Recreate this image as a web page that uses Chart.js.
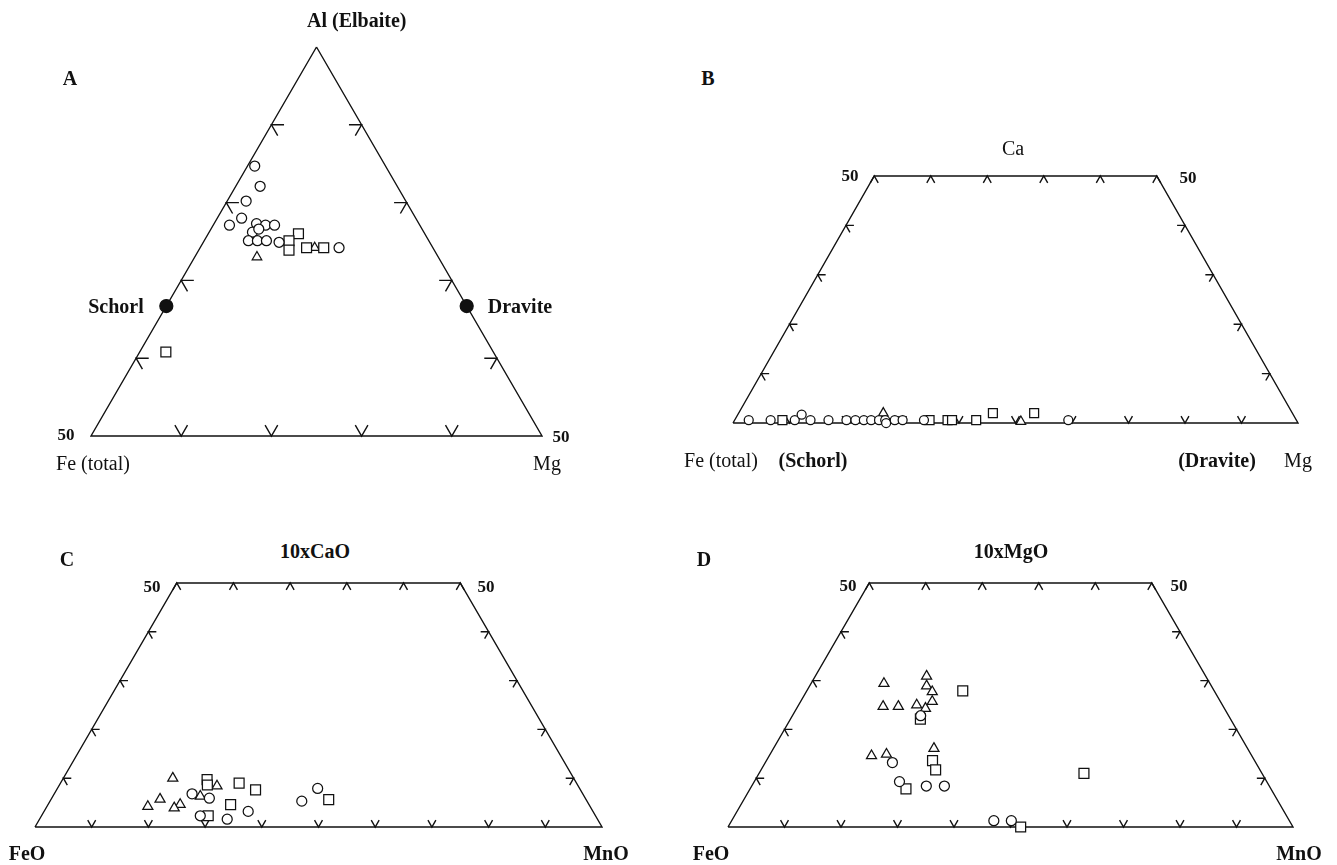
<!DOCTYPE html>
<html>
<head>
<meta charset="utf-8">
<script src="https://cdn.jsdelivr.net/npm/chart.js@4.4.1/dist/chart.umd.min.js"></script>
<style>
  body { margin: 0; background: #fff; }
  #page { position: relative; width: 1337px; height: 865px; overflow: hidden;
          font-family: "Liberation Serif", "Times New Roman", serif; color: #111; }
  canvas { position: absolute; }
  .lbl { position: absolute; white-space: nowrap; font-size: 20px; line-height: 1; }
  .b { font-weight: bold; }
  .n50 { font-size: 17px; font-weight: bold; }
</style>
</head>
<body>
<div id="page">
  <canvas id="cA"></canvas>
  <canvas id="cB"></canvas>
  <canvas id="cC"></canvas>
  <canvas id="cD"></canvas>
</div>
<script>
// Compositions in percent, [top, left, right] of each diagram

// A: Al (top) - Fe total (left) - Mg (right)
const aCircles = [[84.7, 14.5, 0.8], [82.1, 15.2, 2.7], [80.2, 17.7, 2.1], [78.0, 19.3, 2.7],
  [77.1, 21.1, 1.8], [77.3, 18.0, 4.7], [77.1, 17.1, 5.8], [77.1, 16.1, 6.8], [76.2, 19.0, 4.8],
  [76.6, 18.1, 5.3], [75.1, 20.0, 4.9], [75.1, 19.0, 5.9], [75.1, 18.0, 6.9], [74.9, 16.7, 8.4],
  [74.2, 10.4, 15.4]];
const aSquares = [[76.0, 14.0, 10.0], [75.1, 15.5, 9.4], [73.9, 16.1, 10.0], [74.2, 14.0, 11.8],
  [74.2, 12.1, 13.7], [60.8, 36.3, 2.9]];
const aTriangles = [[73.0, 20.1, 6.9], [74.2, 13.1, 12.7]];
const aEndMembers = [[66.7, 33.3, 0], [66.7, 0, 33.3]]; // Schorl, Dravite

// B: Ca (top) - Fe total (left) - Mg (right)
const bCircles = [[0.6, 97.5, 2.5], [0.6, 93.6, 6.4], [0.6, 89.3, 10.7], [1.7, 87.0, 11.3],
  [0.6, 86.5, 13.5], [0.6, 83.3, 16.7], [0.6, 80.1, 19.9], [0.6, 78.5, 21.5], [0.6, 77.0, 23.0],
  [0.6, 75.7, 24.3], [0.6, 74.3, 25.7], [0.6, 73.2, 26.8], [0, 72.9, 27.1], [0.6, 71.5, 28.5],
  [0.6, 70.1, 29.9], [0.6, 66.3, 33.7], [0.6, 40.6, 59.4]];
const bSquares = [[0.6, 91.5, 8.5], [0.6, 65.3, 34.7], [0.6, 62.1, 37.9], [0.6, 61.3, 38.7],
  [0.6, 57.0, 43.0], [2.0, 53.0, 45.0], [2.0, 45.7, 52.3]];
const bTriangles = [[2.0, 72.4, 25.6], [0.3, 48.9, 50.8]];

// C: 10xCaO (top) - FeO (left) - MnO (right)
const cTriangles = [[10.0, 70.7, 19.3], [5.7, 75.1, 19.2], [4.2, 78.0, 17.8], [4.6, 72.1, 23.3],
  [3.9, 73.5, 22.6], [8.4, 63.7, 27.9], [6.3, 67.7, 26.0]];
const cSquares = [[9.7, 64.8, 25.5], [8.6, 65.3, 26.1], [9.0, 59.5, 31.5], [7.6, 57.3, 35.1],
  [4.6, 63.2, 32.2], [2.3, 68.3, 29.4], [5.6, 45.4, 49.0]];
const cCircles = [[6.8, 68.9, 24.3], [5.9, 66.3, 27.8], [2.3, 69.7, 28.0], [1.6, 65.3, 33.1],
  [3.2, 60.8, 36.0], [5.3, 50.3, 44.4], [7.9, 46.2, 45.9]];

// D: 10xMgO (top) - FeO (left) - MnO (right)
const dTriangles = [[29.4, 57.7, 12.9], [30.9, 49.4, 19.7], [28.9, 50.4, 20.7], [27.7, 50.0, 22.3],
  [25.7, 51.0, 23.3], [24.7, 60.2, 15.1], [24.7, 57.5, 17.8], [25.0, 54.1, 20.9], [24.3, 52.9, 22.8],
  [14.6, 67.3, 18.1], [14.9, 64.5, 20.6], [16.1, 55.5, 28.4]];
const dSquares = [[22.1, 54.9, 23.0], [13.6, 57.0, 29.4], [11.7, 57.4, 30.9], [7.8, 64.6, 27.6],
  [0, 48.2, 51.8], [11.0, 31.5, 57.5], [27.9, 44.5, 27.6]];
const dCircles = [[22.8, 54.5, 22.7], [13.2, 64.3, 22.5], [9.3, 65.0, 25.7], [8.4, 60.7, 30.9],
  [8.4, 57.5, 34.1], [1.3, 52.3, 46.4], [1.3, 49.2, 49.5]];

// tick positions (percent)
const aSideTicks = [60, 70, 80, 90];     // Al on both sides
const aBaseTicks = [10, 20, 30, 40];     // Fe along Al = 50
const trapSideTicks = [10, 20, 30, 40];  // top component on both sides
const trapTopTicks = [0, 10, 20, 30, 40, 50];
const trapBaseTicks = [10, 20, 30, 40, 50, 60, 70, 80, 90];

const PAD = 20;
const INK = "#111";
const TICK = 1.4;

// ternary -> cartesian, x = right + top/2, y = top
function toXY(c) {
  const s = c[0] + c[1] + c[2];
  return { x: (c[2] + c[0] / 2) / s * 100, y: c[0] / s * 100 };
}

function lineSet(comps) {
  return {
    data: comps.map(toXY), showLine: true, borderColor: INK, borderWidth: 1.4,
    pointRadius: 0, fill: false, clip: false, order: 5, borderJoinStyle: "miter"
  };
}

function markSet(comps, style, r, fill) {
  return {
    data: comps.map(toXY), showLine: false, pointStyle: style, pointRadius: r,
    pointBackgroundColor: fill || "#fff", pointBorderColor: INK, pointBorderWidth: 1.25,
    clip: false, order: 1
  };
}

// tick shapes: two short arms along the grid directions
function leftTick(t) {
  const l = 100 - t;
  return [[t, l - TICK, TICK], [t, l, 0], [t - TICK, l, TICK]];
}
function rightTick(t) {
  const r = 100 - t;
  return [[t, TICK, r - TICK], [t, 0, r], [t - TICK, TICK, r]];
}
function baseTick(t, l) {
  const r = 100 - t - l;
  return [[t + TICK, l - TICK, r], [t, l, r], [t + TICK, l, r - TICK]];
}
function topTick(t, r) {
  const l = 100 - t - r;
  return [[t - TICK, l + TICK, r], [t, l, r], [t - TICK, l, r + TICK]];
}

function triangleFrame() {
  const sets = [lineSet([[100, 0, 0], [50, 50, 0], [50, 0, 50], [100, 0, 0]])];
  aSideTicks.forEach(t => {
    sets.push(lineSet(leftTick(t)));
    sets.push(lineSet(rightTick(t)));
  });
  aBaseTicks.forEach(f => sets.push(lineSet(baseTick(50, f))));
  return sets;
}

function trapFrame() {
  const sets = [lineSet([[0, 100, 0], [50, 50, 0], [50, 0, 50], [0, 0, 100], [0, 100, 0]])];
  trapSideTicks.forEach(t => {
    sets.push(lineSet(leftTick(t)));
    sets.push(lineSet(rightTick(t)));
  });
  trapTopTicks.forEach(r => sets.push(lineSet(topTick(50, r))));
  trapBaseTicks.forEach(r => sets.push(lineSet(baseTick(0, 100 - r))));
  return sets;
}

function makeChart(id, box, range, datasets) {
  const cv = document.getElementById(id);
  cv.width = box.w + 2 * PAD;
  cv.height = box.h + 2 * PAD;
  cv.style.left = (box.x - PAD) + "px";
  cv.style.top = (box.y - PAD) + "px";
  return new Chart(cv, {
    type: "scatter",
    data: { datasets: datasets },
    options: {
      responsive: false,
      animation: false,
      events: [],
      layout: { padding: PAD, autoPadding: false },
      plugins: { legend: { display: false }, tooltip: { enabled: false } },
      scales: {
        x: { type: "linear", display: false, min: range[0], max: range[1] },
        y: { type: "linear", display: false, min: range[2], max: range[3] }
      }
    }
  });
}

makeChart("cA", { x: 91, y: 47, w: 451, h: 389 }, [25, 75, 50, 100], [
  markSet(aCircles, "circle", 5),
  markSet(aSquares, "rect", 7),
  markSet(aTriangles, "triangle", 5.5),
  markSet(aEndMembers, "circle", 6.5, INK),
  ...triangleFrame()
]);

makeChart("cB", { x: 733, y: 176, w: 565, h: 247 }, [0, 100, 0, 50], [
  markSet(bCircles, "circle", 4.5),
  markSet(bSquares, "rect", 6.3),
  markSet(bTriangles, "triangle", 5.5),
  ...trapFrame()
]);

makeChart("cC", { x: 35, y: 583, w: 567, h: 244 }, [0, 100, 0, 50], [
  markSet(cCircles, "circle", 5),
  markSet(cSquares, "rect", 7),
  markSet(cTriangles, "triangle", 5.8),
  ...trapFrame()
]);

makeChart("cD", { x: 728, y: 583, w: 565, h: 244 }, [0, 100, 0, 50], [
  markSet(dCircles, "circle", 5),
  markSet(dSquares, "rect", 7),
  markSet(dTriangles, "triangle", 5.8),
  ...trapFrame()
]);

// text labels: [text, x, y, class, anchor]  anchor c = centred, l = left edge
const labels = [
  ["A", 70, 78, "b", "c"],
  ["Al (Elbaite)", 307, 20, "b", "l"],
  ["Schorl", 116, 306, "b", "c"],
  ["Dravite", 520, 306, "b", "c"],
  ["50", 66, 434, "n50", "c"],
  ["50", 561, 436, "n50", "c"],
  ["Fe (total)", 93, 463, "", "c"],
  ["Mg", 547, 463, "", "c"],

  ["B", 708, 78, "b", "c"],
  ["Ca", 1013, 148, "", "c"],
  ["50", 850, 175, "n50", "c"],
  ["50", 1188, 177, "n50", "c"],
  ["Fe (total)", 721, 460, "", "c"],
  ["(Schorl)", 813, 460, "b", "c"],
  ["(Dravite)", 1217, 460, "b", "c"],
  ["Mg", 1298, 460, "", "c"],

  ["C", 67, 559, "b", "c"],
  ["10xCaO", 315, 551, "b", "c"],
  ["50", 152, 586, "n50", "c"],
  ["50", 486, 586, "n50", "c"],
  ["FeO", 27, 853, "b", "c"],
  ["MnO", 606, 853, "b", "c"],

  ["D", 704, 559, "b", "c"],
  ["10xMgO", 1011, 551, "b", "c"],
  ["50", 848, 585, "n50", "c"],
  ["50", 1179, 585, "n50", "c"],
  ["FeO", 711, 853, "b", "c"],
  ["MnO", 1299, 853, "b", "c"]
];

const page = document.getElementById("page");
labels.forEach(([txt, x, y, cls, anchor]) => {
  const el = document.createElement("div");
  el.className = "lbl " + cls;
  el.textContent = txt;
  el.style.left = x + "px";
  el.style.top = y + "px";
  el.style.transform = anchor === "l" ? "translate(0,-50%)" : "translate(-50%,-50%)";
  page.appendChild(el);
});
</script>
</body>
</html>
